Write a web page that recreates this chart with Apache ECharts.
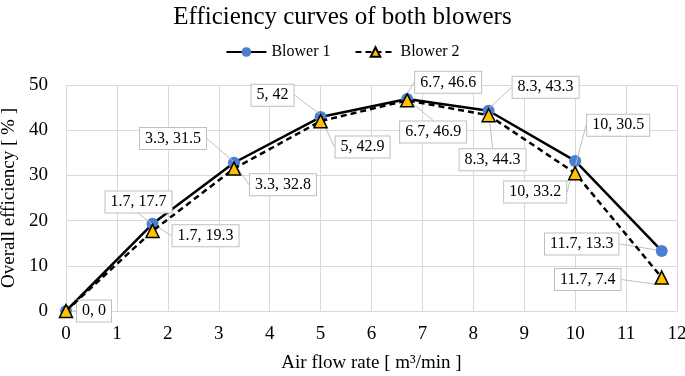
<!DOCTYPE html>
<html>
<head>
<meta charset="utf-8">
<script src="https://cdn.jsdelivr.net/npm/echarts@6/dist/echarts.min.js"></script>
<style>
html,body{margin:0;padding:0;background:#fff;}
#chart{width:685px;height:376px;}
</style>
</head>
<body>
<div id="chart"></div>
<script>
// air flow rate, m3/min
var flowRate = [0, 1.7, 3.3, 5, 6.7, 8.3, 10, 11.7]
// overall efficiency, %
var blower1 = [0, 19.3, 32.8, 42.9, 46.9, 44.3, 33.2, 13.3]
var blower2 = [0, 17.7, 31.5, 42, 46.6, 43.3, 30.5, 7.4]
var xTicks = [0, 1, 2, 3, 4, 5, 6, 7, 8, 9, 10, 11, 12]

// where each callout box sits relative to its point (null = no callout)
var offs1 = [[28, 0], [53, 12], [49, 22], [42, 30], [26, 33], [4, 49], [-40, 31], [-80, -7]]
var offs2 = [null, [-14, -29], [-61, -30], [-48, -26], [41, -18], [57, -28], [43, -48], [-74, 2]]

var font = '"Liberation Serif", "DejaVu Serif", serif'

function points(xs, ys, offs){
    return xs.map(function(x, i){
        var item = {value: [x, ys[i]]}
        if(!offs[i]) item.label = {show: false}
        return item
    })
}

function callout(offs){
    return function(p){
        var o = offs[p.dataIndex] || [0, 0]
        return {dx: o[0], dy: o[1]}
    }
}

var labelStyle = {
    show: true,
    position: 'inside',
    formatter: function(p){ return p.value[0] + ', ' + p.value[1] },
    fontFamily: font,
    fontSize: 16,
    color: '#000',
    backgroundColor: '#fff',
    borderColor: '#bfbfbf',
    borderWidth: 1,
    padding: [3, 5, 2, 5]
}

var chart = echarts.init(document.getElementById('chart'))
chart.setOption({
    animation: false,
    title: {
        text: 'Efficiency curves of both blowers',
        left: 'center',
        top: 0,
        textStyle: {fontFamily: font, fontSize: 25, fontWeight: 'normal', color: '#000'}
    },
    legend: {
        top: 39,
        left: 'center',
        itemWidth: 40,
        itemHeight: 12,
        itemGap: 24,
        textStyle: {fontFamily: font, fontSize: 16, color: '#000'},
        data: ['Blower 1', 'Blower 2']
    },
    grid: {left: 66, right: 8, top: 85, bottom: 65, outerBoundsMode: 'none'},
    xAxis: {
        type: 'value',
        min: 0,
        max: 12,
        interval: 1,
        name: 'Air flow rate [ m³/min ]',
        nameLocation: 'middle',
        nameGap: 43,
        nameTextStyle: {fontFamily: font, fontSize: 19, color: '#000'},
        axisLine: {lineStyle: {color: '#d9d9d9'}},
        axisTick: {show: false},
        axisLabel: {
            fontFamily: font, fontSize: 19, color: '#000', margin: 14,
            formatter: function(v){ return xTicks.indexOf(v) >= 0 ? v : '' }
        },
        splitLine: {lineStyle: {color: '#d9d9d9'}}
    },
    yAxis: {
        type: 'value',
        min: 0,
        max: 50,
        interval: 10,
        name: 'Overall efficiency [ % ]',
        nameLocation: 'middle',
        nameGap: 46,
        nameTextStyle: {fontFamily: font, fontSize: 19, color: '#000'},
        axisLine: {show: false},
        axisTick: {show: false},
        axisLabel: {fontFamily: font, fontSize: 19, color: '#000', margin: 18},
        splitLine: {lineStyle: {color: '#d9d9d9'}}
    },
    series: [
        {
            name: 'Blower 1',
            type: 'line',
            data: points(flowRate, blower1, offs1),
            symbol: 'circle',
            symbolSize: 12,
            itemStyle: {color: '#4a7ed0'},
            lineStyle: {color: '#000', width: 2.5},
            label: labelStyle,
            labelLine: {show: true, lineStyle: {color: '#bfbfbf', width: 1}},
            labelLayout: callout(offs1),
            z: 2
        },
        {
            name: 'Blower 2',
            type: 'line',
            data: points(flowRate, blower2, offs2),
            symbol: 'triangle',
            symbolSize: 13,
            itemStyle: {color: '#ffc000', borderColor: '#000', borderWidth: 1.5},
            lineStyle: {color: '#000', width: 2.5, type: [6, 4]},
            label: labelStyle,
            labelLine: {show: true, lineStyle: {color: '#bfbfbf', width: 1}},
            labelLayout: callout(offs2),
            z: 3
        }
    ]
})
</script>
</body>
</html>
